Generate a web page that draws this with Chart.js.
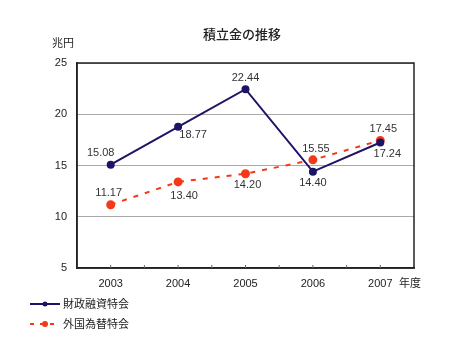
<!DOCTYPE html>
<html><head><meta charset="utf-8">
<script src="https://cdn.jsdelivr.net/npm/chart.js@4.4.0/dist/chart.umd.min.js"></script>
<style>html,body{margin:0;padding:0;background:#fff;}#wrap{width:470px;height:355px;}</style>
</head><body><div id="wrap"><canvas id="c" width="470" height="355"></canvas></div>
<script>
const categories = ['2003', '2004', '2005', '2006', '2007'];
const zaiseiValues = [15.08, 18.77, 22.44, 14.40, 17.24];
const gaikokuValues = [11.17, 13.40, 14.20, 15.55, 17.45];
const seriesNames = ['財政融資特会', '外国為替特会'];
const yTicks = [5, 10, 15, 20, 25];
const titleText = '積立金の推移';
const yUnit = '兆円';
const xUnit = '年度';

const NAVY = '#1c1466';
const RED = '#f5381a';
const FONT = '"Liberation Sans", Arial, "Noto Sans CJK JP", sans-serif';
const JFONT = '"Noto Sans CJK JP", sans-serif';

const labelOffsets = [
  [[-10,-12],[15,8],[0,-11],[0,11],[7,11]],
  [[-2,-12],[6,14],[2,11],[3,-11],[3,-11]]
];

const extras = {
  id: 'extras',
  afterDraw(chart) {
    const ctx = chart.ctx, a = chart.chartArea;
    ctx.save();
    ctx.strokeStyle = '#222'; ctx.lineWidth = 1.5;
    ctx.strokeRect(a.left, a.top, a.right - a.left, a.bottom - a.top);
    const xs = chart.scales.x;
    ctx.strokeStyle = '#666'; ctx.lineWidth = 1;
    for (let i = 0; i < categories.length; i++) {
      const cx = xs.getPixelForValue(i);
      ctx.beginPath(); ctx.moveTo(cx, a.bottom); ctx.lineTo(cx, a.bottom - 3); ctx.stroke();
      if (i < categories.length - 1) {
        const bx = (cx + xs.getPixelForValue(i + 1)) / 2;
        ctx.beginPath(); ctx.moveTo(bx, a.bottom); ctx.lineTo(bx, a.bottom - 3); ctx.stroke();
      }
    }
    ctx.fillStyle = '#333'; ctx.font = '11px ' + FONT;
    ctx.textAlign = 'center'; ctx.textBaseline = 'middle';
    chart.data.datasets.forEach((ds, di) => {
      const meta = chart.getDatasetMeta(di);
      meta.data.forEach((pt, i) => {
        const o = labelOffsets[di][i];
        ctx.fillText(ds.data[i].toFixed(2), pt.x + o[0], pt.y + o[1]);
      });
    });
    ctx.fillStyle = '#222';
    ctx.font = '500 13px ' + JFONT;
    ctx.fillText(titleText, 242, 34);
    ctx.font = '11px ' + JFONT;
    ctx.fillText(yUnit, 63, 43);
    ctx.fillText(xUnit, 410, 283);
    ctx.textAlign = 'left';
    const ly = [304, 324];
    ctx.strokeStyle = NAVY; ctx.lineWidth = 2;
    ctx.beginPath(); ctx.moveTo(30, ly[0]); ctx.lineTo(60, ly[0]); ctx.stroke();
    ctx.fillStyle = NAVY; ctx.beginPath(); ctx.arc(45, ly[0], 2.5, 0, Math.PI * 2); ctx.fill();
    ctx.strokeStyle = RED; ctx.setLineDash([4, 6]);
    ctx.beginPath(); ctx.moveTo(30, ly[1]); ctx.lineTo(60, ly[1]); ctx.stroke();
    ctx.setLineDash([]);
    ctx.fillStyle = RED; ctx.beginPath(); ctx.arc(45, ly[1], 3, 0, Math.PI * 2); ctx.fill();
    ctx.fillStyle = '#222';
    ctx.fillText(seriesNames[0], 63, ly[0]);
    ctx.fillText(seriesNames[1], 63, ly[1]);
    ctx.restore();
  }
};

new Chart(document.getElementById('c'), {
  type: 'line',
  data: {
    labels: categories,
    datasets: [
      { label: seriesNames[0], data: zaiseiValues, borderColor: NAVY, backgroundColor: NAVY,
        borderWidth: 2, pointRadius: 3, pointHoverRadius: 3, tension: 0 },
      { label: seriesNames[1], data: gaikokuValues, borderColor: RED, backgroundColor: RED,
        borderWidth: 2, borderDash: [5, 7], pointRadius: 3.5, pointHoverRadius: 3.5, tension: 0 }
    ]
  },
  options: {
    responsive: false, animation: false, devicePixelRatio: 1,
    layout: { padding: { left: 0, top: 63, right: 56, bottom: 0 } },
    plugins: { legend: { display: false }, title: { display: false }, tooltip: { enabled: false } },
    scales: {
      x: {
        offset: true,
        grid: { display: false },
        border: { display: true, color: '#222', width: 1.5 },
        ticks: { color: '#222', font: { size: 11, family: FONT }, padding: 1 },
        afterFit(s) { s.height = 87; }
      },
      y: {
        min: 5, max: 25,
        afterBuildTicks(s) { s.ticks = yTicks.map(v => ({ value: v })); },
        grid: { color: '#aaaaaa', lineWidth: 1, drawTicks: false },
        border: { display: true, color: '#222', width: 1.5 },
        ticks: { color: '#222', font: { size: 11, family: FONT }, padding: 10 },
        afterFit(s) { s.width = 77; }
      }
    }
  },
  plugins: [extras]
});
</script></body></html>
